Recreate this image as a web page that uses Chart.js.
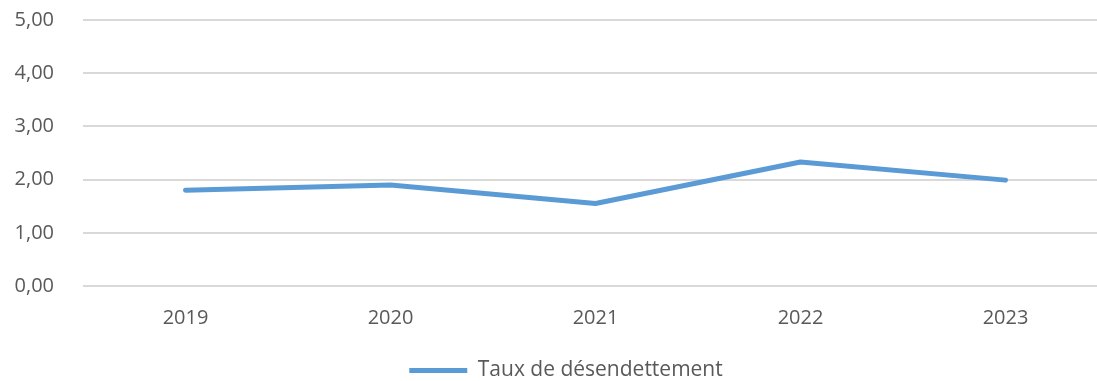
<!DOCTYPE html>
<html>
<head>
<meta charset="utf-8">
<script src="https://cdn.jsdelivr.net/npm/chart.js@4/dist/chart.umd.min.js"></script>
<style>
  html, body { margin: 0; padding: 0; background: #fff; overflow: hidden; }
  #wrap { width: 1132px; height: 381px; }
</style>
</head>
<body>
<div id="wrap"><canvas id="c" width="1132" height="381"></canvas></div>
<script>
const years = ['2019', '2020', '2021', '2022', '2023'];
const tauxDesendettement = [1.80, 1.90, 1.55, 2.33, 1.99];
const seriesLabel = 'Taux de désendettement';

const textColor = '#595959';
const fontFamily = "'Open Sans', 'Noto Sans', sans-serif";

// Centre the bottom legend on the whole canvas rather than on the padded area.
const legendShift = {
  id: 'legendShift',
  afterLayout(chart) {
    const lg = chart.legend;
    if (lg) {
      const dx = chart.options.layout.padding.right / 2;
      lg.left += dx;
      lg.right += dx;
    }
  }
};

new Chart(document.getElementById('c'), {
  type: 'line',
  data: {
    labels: years,
    datasets: [{
      label: seriesLabel,
      data: tauxDesendettement,
      borderColor: '#5B9BD5',
      backgroundColor: '#5B9BD5',
      borderWidth: 5,
      borderCapStyle: 'round',
      borderJoinStyle: 'round',
      pointRadius: 0,
      pointHoverRadius: 0,
      tension: 0
    }]
  },
  plugins: [legendShift],
  options: {
    responsive: false,
    animation: false,
    devicePixelRatio: 1,
    layout: { padding: { left: 0, right: 24, top: 20, bottom: -10 } },
    plugins: {
      tooltip: { enabled: false },
      legend: {
        position: 'bottom',
        labels: {
          color: textColor,
          font: { family: fontFamily, size: 21 },
          usePointStyle: true,
          pointStyle: 'line',
          pointStyleWidth: 58,
          boxHeight: 5,
          padding: 2
        }
      }
    },
    scales: {
      x: {
        offset: true,
        grid: { display: false },
        border: { display: false },
        ticks: {
          color: textColor,
          font: { family: fontFamily, size: 20 },
          padding: 12,
          maxRotation: 0
        },
        afterFit: (scale) => { scale.height = 72; }
      },
      y: {
        min: 0,
        max: 5,
        grid: {
          color: '#D9D9D9',
          lineWidth: 2,
          drawTicks: true,
          tickLength: 29,
          tickColor: 'rgba(0,0,0,0)'
        },
        border: { display: false },
        ticks: {
          stepSize: 1,
          color: textColor,
          font: { family: fontFamily, size: 20 },
          padding: 0,
          callback: (v) => v.toFixed(2).replace('.', ',')
        },
        afterFit: (scale) => { scale.width = 83; }
      }
    }
  }
});
</script>
</body>
</html>
